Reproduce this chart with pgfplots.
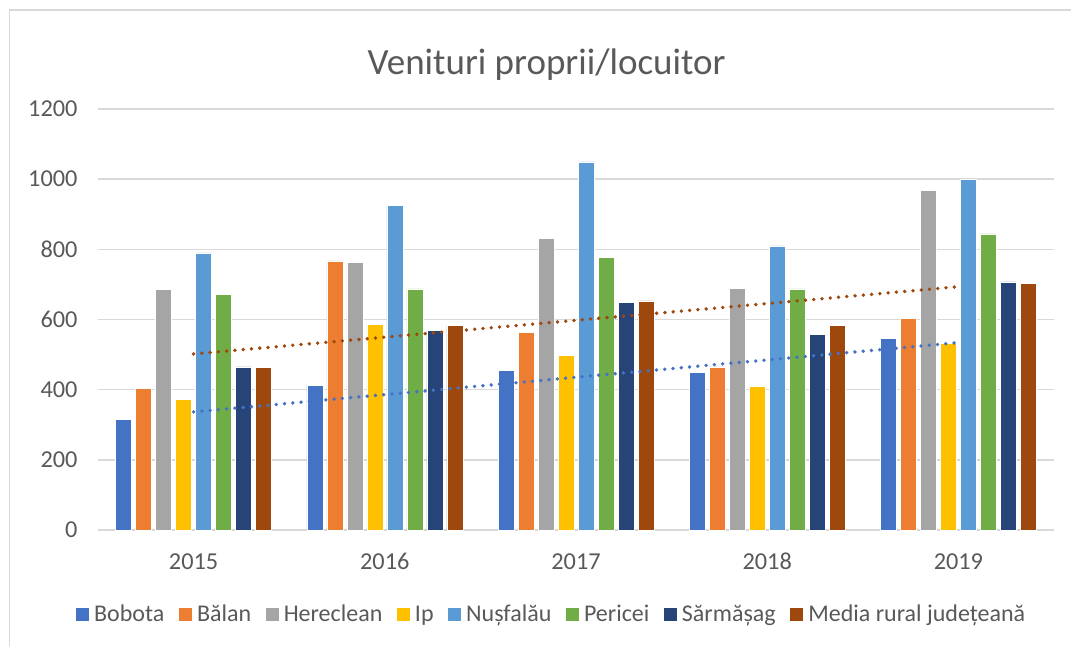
\documentclass[border=0pt]{standalone}
\usepackage{pgfplots}
\usepackage{pgfplotstable}
\pgfplotsset{compat=1.18}
\usepackage{fontspec}
\setmainfont{Carlito}
\definecolor{cBob}{HTML}{4472C4}
\definecolor{cBal}{HTML}{ED7D31}
\definecolor{cHer}{HTML}{A5A5A5}
\definecolor{cIp}{HTML}{FFC000}
\definecolor{cNus}{HTML}{5B9BD5}
\definecolor{cPer}{HTML}{70AD47}
\definecolor{cSar}{HTML}{264478}
\definecolor{cMed}{HTML}{9E480E}
\definecolor{txt}{HTML}{595959}
\definecolor{grd}{HTML}{D9D9D9}
\pgfplotstableread{
x Bobota Balan Hereclean Ip Nusfalau Pericei Sarmasag Media
0 316 404 685 373 790 671 465 464
1 413 767 763 586 926 687 570 584
2 454 563 831 497 1049 776 649 653
3 449 465 689 409 810 687 558 583
4 545 602 968 532 1000 844 707 704
}\data
\begin{document}
\begin{tikzpicture}
\path[use as bounding box] (0,0) rectangle (1071pt,646pt);
\draw[grd, line width=1.5pt] (9.5pt,0pt) -- (9.5pt,636pt) -- (1071pt,636pt);
\node[anchor=base, text=txt, font=\fontsize{37}{43}\selectfont] at (546.7pt,571pt) {Venituri proprii/locuitor};
\begin{axis}[
  at={(98pt,116pt)}, anchor=south west,
  scale only axis, width=956pt, height=421pt,
  xmin=-0.5, xmax=4.5, ymin=0, ymax=1200,
  ytick={0,200,...,1200},
  xtick={0,1,2,3,4},
  xticklabels={2015,2016,2017,2018,2019},
  ybar, bar width=16pt,
  axis line style={draw=none},
  major tick length=0pt,
  ymajorgrids, grid style={grd, line width=1.5pt},
  tick label style={text=txt, font=\fontsize{24.3}{28}\selectfont},
  /pgf/number format/assume math mode=true,
  /pgf/number format/1000 sep={},
  yticklabel style={xshift=-17pt},
  xticklabel style={yshift=-20pt, text height=16pt, text depth=0pt},
  legend columns=8,
  legend style={draw=none, fill=none, text=txt, font=\fontsize{24}{28}\selectfont,
    at={(axis description cs:0.474,-0.2)}, anchor=center,
    /tikz/every even column/.append style={column sep=11.5pt},
    /tikz/every odd column/.append style={column sep=2.5pt}},
  legend image code/.code={\fill[#1] (0pt,-7pt) rectangle (14pt,7pt);},
]
\addplot[fill=cBob, draw=white, line width=0.6pt, bar shift=-70pt] table[x=x,y=Bobota]{\data};
\addlegendentry{Bobota}
\addplot[fill=cBal, draw=white, line width=0.6pt, bar shift=-50pt] table[x=x,y=Balan]{\data};
\addlegendentry{Bălan}
\addplot[fill=cHer, draw=white, line width=0.6pt, bar shift=-30pt] table[x=x,y=Hereclean]{\data};
\addlegendentry{Hereclean}
\addplot[fill=cIp, draw=white, line width=0.6pt, bar shift=-10pt] table[x=x,y=Ip]{\data};
\addlegendentry{Ip}
\addplot[fill=cNus, draw=white, line width=0.6pt, bar shift=10pt] table[x=x,y=Nusfalau]{\data};
\addlegendentry{Nușfalău}
\addplot[fill=cPer, draw=white, line width=0.6pt, bar shift=30pt] table[x=x,y=Pericei]{\data};
\addlegendentry{Pericei}
\addplot[fill=cSar, draw=white, line width=0.6pt, bar shift=50pt] table[x=x,y=Sarmasag]{\data};
\addlegendentry{Sărmășag}
\addplot[fill=cMed, draw=white, line width=0.6pt, bar shift=70pt] table[x=x,y=Media]{\data};
\addlegendentry{Media rural județeană}
\addplot[sharp plot, forget plot, cBob, line width=3.8pt, line cap=round, dash pattern=on 0pt off 8.3pt]
  table[x=x, y={create col/linear regression={y=Bobota}}]{\data};
\addplot[sharp plot, forget plot, cMed, line width=3.8pt, line cap=round, dash pattern=on 0pt off 8.3pt]
  table[x=x, y={create col/linear regression={y=Media}}]{\data};
\end{axis}
\end{tikzpicture}
\end{document}
